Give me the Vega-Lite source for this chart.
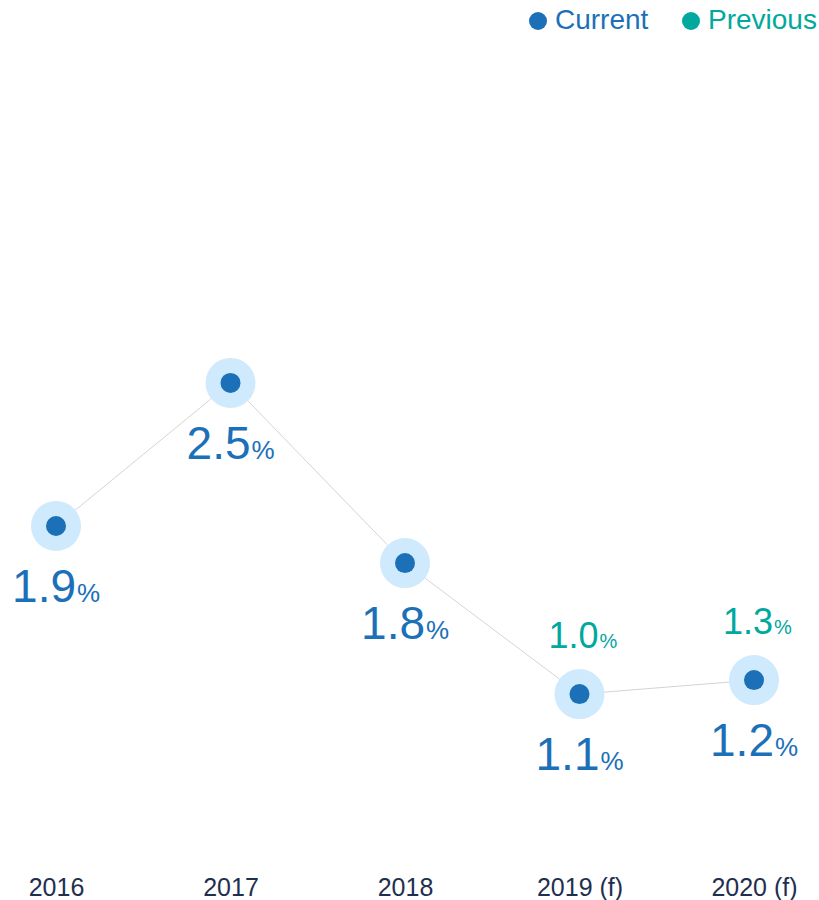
{
  "$schema": "https://vega.github.io/schema/vega-lite/v6.json",
  "autosize": "none",
  "padding": {"left": 0, "top": 0, "right": 9, "bottom": 40},
  "width": 810,
  "height": 860,
  "background": "white",
  "config": {
    "view": {"stroke": null},
    "font": "Liberation Sans"
  },
  "data": {
    "values": [
      {"year": "2016", "value": 1.876, "cur": "1.9", "prev": null},
      {"year": "2017", "value": 2.508, "cur": "2.5", "prev": null},
      {"year": "2018", "value": 1.712, "cur": "1.8", "prev": null},
      {"year": "2019 (f)", "value": 1.133, "cur": "1.1", "prev": "1.0"},
      {"year": "2020 (f)", "value": 1.195, "cur": "1.2", "prev": "1.3"}
    ]
  },
  "encoding": {
    "x": {
      "field": "year", "type": "nominal", "sort": null,
      "scale": {"type": "point", "padding": 0.321},
      "axis": {
        "title": null, "domain": false, "ticks": false, "tickSize": 0, "grid": false,
        "labelAngle": 0, "labelFontSize": 25, "labelColor": "#1f2f4f",
        "labelBaseline": "alphabetic", "labelPadding": 35, "labelFont": "Liberation Sans"
      }
    },
    "y": {
      "field": "value", "type": "quantitative",
      "scale": {"domain": [0.4, 4.2], "nice": false, "zero": false},
      "axis": null
    }
  },
  "layer": [
    {"mark": {"type": "line", "color": "#d4d4d4", "strokeWidth": 1}, "encoding": {}},
    {"mark": {"type": "circle", "size": 2500, "color": "#cfe9fd", "opacity": 1}, "encoding": {}},
    {
      "mark": {"type": "circle", "size": 400, "opacity": 1},
      "encoding": {
        "color": {
          "datum": "Current", "type": "nominal",
          "scale": {"domain": ["Current", "Previous"], "range": ["#1b70b8", "#00a89e"]},
          "legend": {
            "title": null, "orient": "none", "legendX": 524, "legendY": 7,
            "direction": "horizontal", "symbolType": "circle", "symbolSize": 324,
            "symbolStrokeWidth": 0, "symbolOpacity": 1, "labelFontSize": 28,
            "labelFont": "Liberation Sans", "labelOffset": 3, "columnPadding": 28,
            "padding": 0,
            "labelColor": {"expr": "datum.value === 'Current' ? '#1b70b8' : '#00a89e'"}
          }
        }
      }
    },
    {
      "mark": {"type": "text", "align": "right", "baseline": "alphabetic", "dx": 20, "dy": 76, "fontSize": 46, "color": "#1b70b8"},
      "encoding": {"text": {"field": "cur"}}
    },
    {
      "mark": {"type": "text", "align": "left", "baseline": "alphabetic", "dx": 21, "dy": 76, "fontSize": 26, "color": "#1b70b8"},
      "encoding": {"text": {"value": "%"}}
    },
    {
      "transform": [{"filter": "datum.prev != null"}],
      "mark": {"type": "text", "align": "right", "baseline": "alphabetic", "dx": 19, "dy": -46, "fontSize": 36, "color": "#00a89e"},
      "encoding": {"text": {"field": "prev"}}
    },
    {
      "transform": [{"filter": "datum.prev != null"}],
      "mark": {"type": "text", "align": "left", "baseline": "alphabetic", "dx": 20, "dy": -46, "fontSize": 20, "color": "#00a89e"},
      "encoding": {"text": {"value": "%"}}
    }
  ]
}
